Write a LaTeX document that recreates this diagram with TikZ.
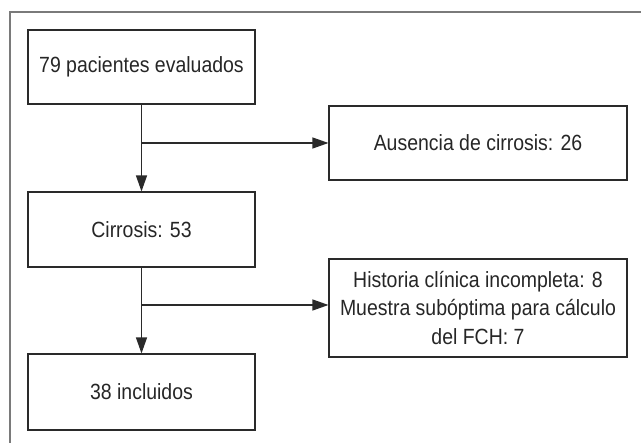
\documentclass[tikz,border=0pt]{standalone}
\usepackage{fontspec}
\setmainfont{Liberation Sans}[FakeStretch=0.885]
\usetikzlibrary{arrows.meta}
\definecolor{boxline}{HTML}{2A2A2A}
\definecolor{frameline}{HTML}{7A7A7A}
\begin{document}
\begin{tikzpicture}[x=1pt,y=-1pt,
  box/.style={draw=boxline, line width=1.1pt, rectangle, inner sep=0pt,
    font=\fontsize{22}{28.5}\selectfont, align=center, text=black!85},
  arr/.style={draw=boxline, line width=1.2pt, -{Triangle[length=16pt,width=11pt]}}]
  \useasboundingbox (0,0) rectangle (641,443);
  \draw[frameline, line width=1.2pt] (10,443) -- (10,12) -- (641,12);
  \node[box, minimum width=227pt, minimum height=74pt] (eval) at (141.5,67) {79 pacientes evaluados};
  \node[box, minimum width=227pt, minimum height=75pt] (cirr) at (141.5,229.5) {Cirrosis: 53};
  \node[box, minimum width=227pt, minimum height=76pt] (incl) at (141.5,392) {38 incluidos};
  \node[box, minimum width=298pt, minimum height=74pt] (aus) at (478,143) {Ausencia de cirrosis: 26};
  \node[box, minimum width=298pt, minimum height=98pt] (hist) at (478,308) {Historia clínica incompleta: 8\\Muestra subóptima para cálculo\\del FCH: 7};
  \coordinate (j1) at (141.5,143);
  \coordinate (j2) at (141.5,305);
  \draw[arr] (eval.south) -- (cirr.north);
  \draw[arr] (cirr.south) -- (incl.north);
  \draw[arr] (j1) -- (j1 -| aus.west);
  \draw[arr] (j2) -- (j2 -| hist.west);
\end{tikzpicture}
\end{document}
